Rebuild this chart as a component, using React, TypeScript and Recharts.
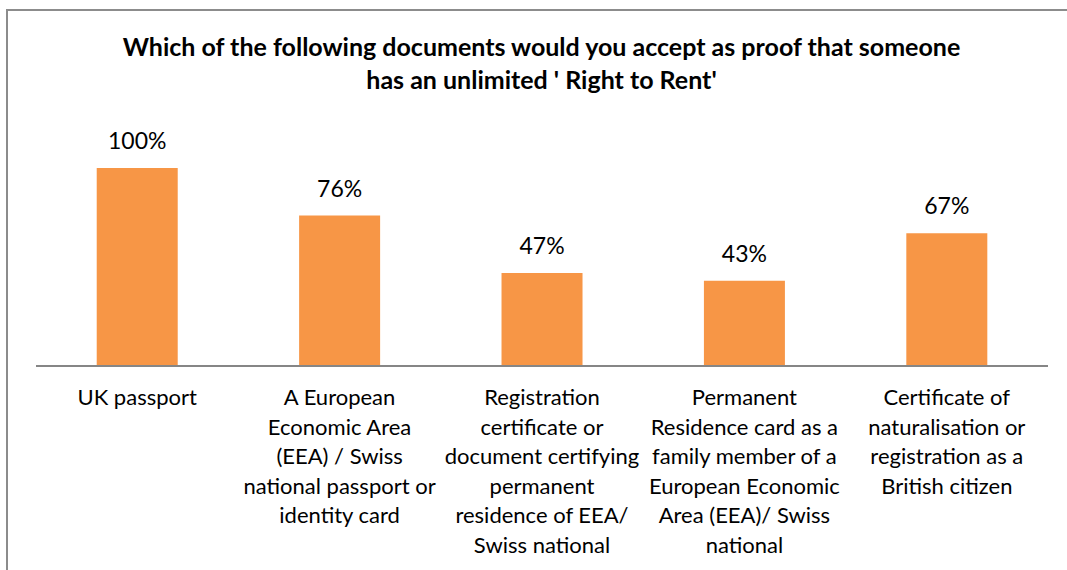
import React from 'react';
import { BarChart, Bar, XAxis, YAxis, LabelList } from 'recharts';

const TITLE_LINES = [
  'Which of the following documents would you accept as proof that someone',
  "has an unlimited ' Right to Rent'",
];

const CATEGORIES = [
  'UK passport',
  'A European\nEconomic Area\n(EEA) / Swiss\nnational passport or\nidentity card',
  'Registration\ncertificate or\ndocument certifying\npermanent\nresidence of EEA/\nSwiss national',
  'Permanent\nResidence card as a\nfamily member of a\nEuropean Economic\nArea (EEA)/ Swiss\nnational',
  'Certificate of\nnaturalisation or\nregistration as a\nBritish citizen',
];

const VALUES = [100, 76, 47, 43, 67];

const FONT = 'Lato, "Open Sans", sans-serif';
const BAR_COLOR = '#F79646';

const data = CATEGORIES.map((name, i) => ({ name, value: VALUES[i] }));

// multi-line category label, lines split on \n
const CategoryTick = ({ x, y, payload }: any) => {
  const lines = String(payload.value).split('\n');
  return (
    <text x={x} y={y + 31} textAnchor="middle" fill="#000" fontFamily={FONT} fontSize={22}>
      {lines.map((line, i) => (
        <tspan key={i} x={x} dy={i === 0 ? 0 : 29.6}>
          {line}
        </tspan>
      ))}
    </text>
  );
};

export default function App() {
  return (
    <div
      style={{
        position: 'fixed',
        left: 0,
        top: 0,
        width: 1067,
        height: 570,
        overflow: 'hidden',
        background: '#fff',
      }}
    >
      <div
        style={{
          position: 'absolute',
          left: 6,
          top: 9,
          width: 1100,
          height: 620,
          border: '2px solid #8c8c8c',
        }}
      />
      <div
        style={{
          position: 'absolute',
          left: 0,
          top: 30,
          width: 1083,
          textAlign: 'center',
          fontFamily: FONT,
          fontWeight: 700,
          fontSize: 25,
          lineHeight: '33px',
          color: '#000',
        }}
      >
        {TITLE_LINES.map((t, i) => (
          <div key={i}>{t}</div>
        ))}
      </div>
      <div style={{ position: 'absolute', left: 0, top: 0 }}>
        <BarChart
          width={1067}
          height={570}
          data={data}
          margin={{ top: 168, right: 19, bottom: 4, left: 36 }}
          barCategoryGap="30%"
        >
          <XAxis
            dataKey="name"
            axisLine={{ stroke: '#868686', strokeWidth: 2 }}
            tickLine={false}
            interval={0}
            tick={<CategoryTick />}
            height={200}
          />
          <YAxis hide domain={[0, 100]} />
          <Bar dataKey="value" fill={BAR_COLOR} isAnimationActive={false}>
            <LabelList
              dataKey="value"
              position="top"
              offset={19}
              formatter={(v: any) => `${v}%`}
              style={{ fontFamily: FONT, fontSize: 23, fill: '#000' }}
            />
          </Bar>
        </BarChart>
      </div>
    </div>
  );
}
